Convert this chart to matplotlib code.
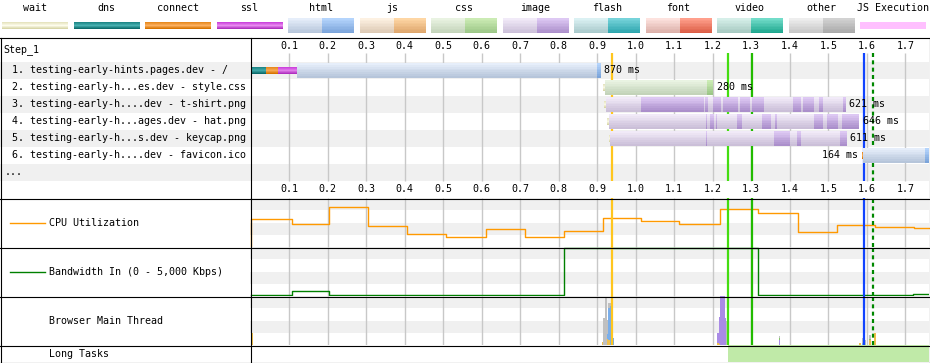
import matplotlib.pyplot as plt
import numpy as np
from matplotlib.colors import to_rgb
from matplotlib.patches import Rectangle

W, H = 930, 363
plt.rcParams['font.family'] = ['DejaVu Sans Mono']
fs = 7.2

# ---- data ----
legend_names = ['wait', 'dns', 'connect', 'ssl', 'html', 'js', 'css', 'image',
                'flash', 'font', 'video', 'other', 'JS Execution']

tick_labels = ['0.1', '0.2', '0.3', '0.4', '0.5', '0.6', '0.7', '0.8', '0.9',
               '1.0', '1.1', '1.2', '1.3', '1.4', '1.5', '1.6', '1.7']
tick_t = [float(s) for s in tick_labels]
t_end = 1.7616

req_names = ['testing-early-hints.pages.dev - /',
             'testing-early-h...es.dev - style.css',
             'testing-early-h....dev - t-shirt.png',
             'testing-early-h...ages.dev - hat.png',
             'testing-early-h...s.dev - keycap.png',
             'testing-early-h....dev - favicon.ico']
req_type = ['html', 'css', 'image', 'image', 'image', 'html']
req_ms = ['870 ms', '280 ms', '621 ms', '646 ms', '611 ms', '164 ms']

# connection phases (row 1) and the small connect of row 6
dns_1 = (0.0, 0.039)
connect_1 = (0.039, 0.0699)
ssl_1 = (0.0699, 0.119)
connect_6 = (1.5868, 1.5909)

wait_start = [None, 0.914, 0.9174, 0.9252, 0.9296, None]
req_start = [0.119, 0.9192, 0.9226, 0.9304, 0.9330, 1.5909]
dl_start = [0.900, 1.1842, None, None, None, 1.7512]
req_end = [0.909, 1.2013, 1.546, 1.5805, 1.5486, 1.7616]

img_dark_3 = [(1.0135, 1.1771), (1.1805, 1.1875), (1.2013, 1.2221), (1.2273, 1.2662),
              (1.2706, 1.2966), (1.3018, 1.3330), (1.4075, 1.4283), (1.4335, 1.4629),
              (1.4751, 1.4855), (1.5390, 1.5460)]
img_dark_4 = [(1.1823, 1.1849), (1.1927, 1.2044), (1.2083, 1.2122), (1.2629, 1.2758),
              (1.3278, 1.3512), (1.3623, 1.3660), (1.4634, 1.4862), (1.4966, 1.5252),
              (1.5356, 1.5805)]
img_dark_5 = [(1.1823, 1.1849), (1.3590, 1.4005), (1.4187, 1.4291), (1.5304, 1.5486)]
img_dark = {2: img_dark_3, 3: img_dark_4, 4: img_dark_5}

marker_t = [0.9374, 1.2387, 1.301, 1.592, 1.615]
marker_c = ['#ffc61e', '#44dd11', '#22bb00', '#1144ff', '#008800']

cpu_t = [0.0, 0.106, 0.204, 0.305, 0.406, 0.508, 0.610, 0.711, 0.813, 0.914,
         1.013, 1.113, 1.218, 1.318, 1.421, 1.522, 1.622, 1.722]
cpu_pct = [56.5, 46.4, 81.1, 42.1, 27.3, 19.9, 36.3, 19.9, 32.2, 58.9,
           52.8, 46.4, 77.4, 69.2, 30.2, 44.6, 40.5, 38.4]

bw_t = [0.0, 0.106, 0.204, 0.813, 1.318, 1.721]
bw_kbps = [0, 400, 0, 4900, 0, 130]

mt_t = [0.003, 0.914, 0.918, 0.922, 0.926, 0.930, 0.934, 0.938, 0.942,
        1.213, 1.217, 1.221, 1.225, 1.229, 1.233, 1.237, 1.373,
        1.582, 1.589, 1.596, 1.608, 1.621]
mt_script = [0.25, 0.06, 0, 0, 0.12, 0.10, 0, 0, 0,
             0.04, 0.03, 0, 0, 0, 0, 0, 0,
             0.05, 0, 0, 0.10, 0.25]
mt_layout = [0, 0, 0, 0, 0, 0, 0, 0, 0,
             0.20, 0.55, 1.0, 1.0, 1.0, 0.55, 0, 0.10,
             0, 0, 0, 0, 0]
mt_paint = [0, 0, 0, 0, 0, 0, 0, 0, 0,
            0, 0, 0, 0, 0, 0, 0, 0.05,
            0, 0, 0, 0.03, 0]
mt_loading = [0, 0, 0, 0, 0.10, 0.65, 0.80, 0.50, 0.15,
              0, 0, 0, 0, 0, 0, 0, 0,
              0, 0.04, 0, 0, 0]
mt_other = [0, 0, 0.55, 0.95, 0.30, 0.10, 0.05, 0, 0,
            0, 0, 0, 0, 0, 0, 0.50, 0.04,
            0, 0.10, 0.10, 0.08, 0]

long_task = (1.2398, t_end)

# ---- styles ----
light = {'html': ['#e6eefa', '#b6c5da'], 'js': ['#fdf1e2', '#dcc9b4'],
         'css': ['#e9f3e2', '#c3d3b9'], 'image': ['#f1eaf8', '#cbbfd8'],
         'flash': ['#dbf1f3', '#a8c9cb'], 'font': ['#fde2de', '#dbafa8'],
         'video': ['#d6efe9', '#a6c9c1'], 'other': ['#eeeeee', '#c6c6c6']}
dark = {'html': ['#b4d4fc', '#7ba4da'], 'js': ['#fed6a4', '#dea66c'],
        'css': ['#cbebb4', '#9cc787'], 'image': ['#ddc8f3', '#ab8fcb'],
        'flash': ['#76d3da', '#2ea6ae'], 'font': ['#ff9f8c', '#dc5e46'],
        'video': ['#72dcc9', '#1fa78f'], 'other': ['#d2d2d2', '#a9a9a9']}
thin = {'wait': ['#e6e4c0', '#fdfcec', '#d8d6a8'],
        'dns': ['#1f8888', '#48b0b0', '#0c6c6c'],
        'connect': ['#e88a20', '#fbb060', '#d87400'],
        'ssl': ['#cc44dd', '#e88af0', '#b030c0'],
        'JS Execution': ['#ffc0ff', '#ffc0ff']}
mt_colors = ['#efc04e', '#a98be6', '#86c56a', '#7aaeea', '#c0c0c0']
band = '#f0f0f0'
grid_c = '#c8c8c8'
TALL, THIN = 0.88, 0.41


def grad(stops, n):
    stops = [np.array(to_rgb(c)) for c in stops]
    out = []
    for k in range(n):
        f = k / max(n - 1, 1) * (len(stops) - 1)
        i = min(int(f), len(stops) - 2)
        r = f - i
        out.append(tuple(stops[i] * (1 - r) + stops[i + 1] * r))
    return out


def gbar(ax, y, left, right, h, stops, n=8, z=3):
    cols = grad(stops, n)
    # solid base so nothing behind shows through the slices
    ax.barh(y, right - left, height=h, left=left, color=cols[n // 2],
            linewidth=0, zorder=z)
    for k in range(n):
        ax.barh(y - h / 2 + h * (k + 0.5) / n, right - left, height=h / n,
                left=left, color=cols[k], linewidth=0, zorder=z)


fig = plt.figure(figsize=(W / 100, H / 100), dpi=100)


def px_axes(x0, y0, x1, y1):
    ax = fig.add_axes([x0 / W, 1 - y1 / H, (x1 - x0) / W, (y1 - y0) / H])
    ax.set_axis_off()
    return ax


# ---- legend ----
axl = px_axes(0, 0, 930, 37)
axl.set_xlim(0, 930)
axl.set_ylim(37, 0)
for i, name in enumerate(legend_names):
    x0 = 2 + i * 71.5
    axl.text(x0 + 33, 8, name, ha='center', va='center', fontsize=fs)
    if name in thin:
        gbar(axl, 25.5, x0, x0 + 66, 7, thin[name], n=7)
    else:
        gbar(axl, 25.5, x0, x0 + 34, 15, light[name], n=10)
        gbar(axl, 25.5, x0 + 34, x0 + 66, 15, dark[name], n=10)

# ---- waterfall ----
ylim_wf = (8.5, -0.97)
axn = px_axes(0, 37, 250, 198)
axn.set_xlim(0, 250)
axn.set_ylim(*ylim_wf)
axw = px_axes(250, 37, 929, 198)
axw.set_xlim(-0.002, t_end)
axw.set_ylim(*ylim_wf)

for r in [1, 3, 5, 7]:
    axn.axhspan(r - 0.5, r + 0.5, color=band, lw=0, zorder=0)
    axw.axhspan(r - 0.5, r + 0.5, color=band, lw=0, zorder=0)

axn.text(3, -0.22, 'Step_1', ha='left', va='center', fontsize=fs)
for i, name in enumerate(req_names):
    axn.text(6, i + 1, f' {i + 1}. {name}', ha='left', va='center', fontsize=fs)
axn.text(5, 7, '...', ha='left', va='center', fontsize=fs)

axw.vlines(tick_t, -0.03, 7.5, color=grid_c, lw=1, zorder=1)
for t, s in zip(tick_t, tick_labels):
    axw.text(t, -0.44, s, ha='center', va='center', fontsize=fs)
    axw.text(t, 7.97, s, ha='center', va='center', fontsize=fs)
for k, (t, c) in enumerate(zip(marker_t, marker_c)):
    ls = (0, (1.8, 1.5)) if k == 4 else '-'
    axw.vlines(t, -0.03, 7.5, color=c, lw=1.6, linestyles=[ls], zorder=2)

gbar(axw, 1, *dns_1, THIN, thin['dns'])
gbar(axw, 1, *connect_1, THIN, thin['connect'])
gbar(axw, 1, *ssl_1, THIN, thin['ssl'])
gbar(axw, 6, *connect_6, THIN, thin['connect'])
for i in range(6):
    y = i + 1
    kind = req_type[i]
    if wait_start[i] is not None:
        gbar(axw, y, wait_start[i], req_start[i] + 0.002, THIN, thin['wait'])
    gbar(axw, y, req_start[i], req_end[i], TALL, light[kind])
    if dl_start[i] is not None:
        gbar(axw, y, dl_start[i], req_end[i], TALL, dark[kind])
    for a, b in img_dark.get(i, []):
        gbar(axw, y, a, b, TALL, dark[kind])
    if i == 5:
        axw.annotate(req_ms[i], (connect_6[0], y), xytext=(-2.5, 0),
                     textcoords='offset points', ha='right', va='center', fontsize=fs)
    else:
        axw.annotate(req_ms[i], (req_end[i], y), xytext=(2.5, 0),
                     textcoords='offset points', ha='left', va='center', fontsize=fs)


# ---- lower panels ----
def panel(y0, y1, stripes=True):
    ax = px_axes(250, y0, 929, y1)
    ax.set_xlim(-0.002, t_end)
    if stripes:
        for a in [0.75, 0.25]:
            ax.add_patch(Rectangle((0, a), 1, 0.25, transform=ax.transAxes,
                                   color=band, lw=0, zorder=0))
        ax.vlines(tick_t, 0, 1, color=grid_c, lw=1, zorder=1,
                  transform=ax.get_xaxis_transform())
    return ax


def markers(ax):
    for k, (t, c) in enumerate(zip(marker_t, marker_c)):
        ls = (0, (1.8, 1.5)) if k == 4 else '-'
        ax.axvline(t, color=c, lw=1.6, linestyle=ls, zorder=4)


axc = panel(198, 247)
axc.set_ylim(0, 100)
axc.plot([0.0] + cpu_t + [t_end], [0.0] + cpu_pct + [cpu_pct[-1]],
         drawstyle='steps-post', color='#ff9900', lw=1.0, zorder=3, clip_on=False)
markers(axc)

axb = panel(247, 296)
axb.set_ylim(-110, 5000)
axb.plot(bw_t + [t_end], bw_kbps + [bw_kbps[-1]], drawstyle='steps-post',
         color='#008000', lw=1.0, zorder=3)
markers(axb)

axm = panel(296, 345)
axm.set_ylim(0, 1)
bottom = np.zeros(len(mt_t))
for vals, c in zip([mt_script, mt_layout, mt_paint, mt_loading, mt_other], mt_colors):
    axm.bar(mt_t, vals, width=0.004, bottom=bottom, color=c, lw=0, zorder=2)
    bottom += np.array(vals)
markers(axm)

axt = panel(345, 362, stripes=False)
axt.axvspan(*long_task, color='#c0eaa8', lw=0)

# ---- frame & panel labels ----
axf = px_axes(0, 0, 930, 363)
axf.set_xlim(0, 930)
axf.set_ylim(363, 0)
lk = dict(color='black', lw=0.8)
for y in [37.5, 198.5, 247.5, 296.5, 345.5, 362.5]:
    axf.plot([0, 929.5], [y, y], **lk)
for x in [0.5, 250.5, 929.5]:
    axf.plot([x, x], [37.5, 362.5], **lk)

axf.plot([10, 45], [223, 223], color='#ff9900', lw=1.0)
axf.text(49, 223, 'CPU Utilization', ha='left', va='center', fontsize=fs)
axf.plot([10, 45], [272, 272], color='#008000', lw=1.0)
axf.text(49, 272, 'Bandwidth In (0 - 5,000 Kbps)', ha='left', va='center', fontsize=fs)
axf.text(49, 321, 'Browser Main Thread', ha='left', va='center', fontsize=fs)
axf.text(49, 354, 'Long Tasks', ha='left', va='center', fontsize=fs)

fig.savefig('out.png', dpi=100)
